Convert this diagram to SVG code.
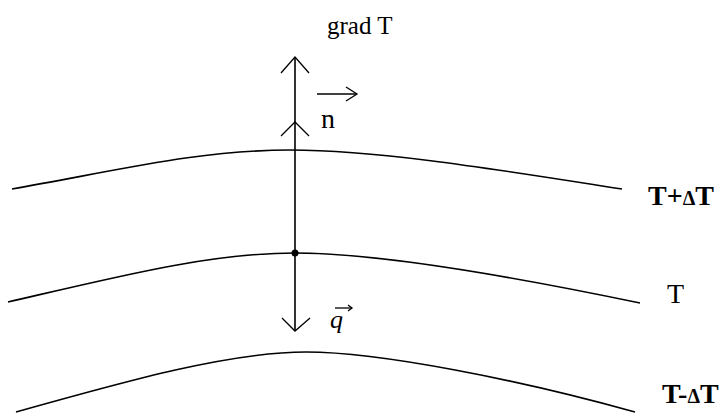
<svg xmlns="http://www.w3.org/2000/svg" width="727" height="414" viewBox="0 0 727 414">
<style>
.c{fill:none;stroke:#000;stroke-width:1.6}
.a{fill:none;stroke:#000;stroke-width:1.3}
.t{font-family:"Liberation Serif",serif;fill:#000}
</style>
<rect width="727" height="414" fill="#fff"/>
<g id="isotherm-top">
<path class="c" d="M12,189 C120,170 200,150 290,150 C380,150 500,170 622,189"/>
<text class="t" x="648" y="205" font-size="28" font-weight="bold">T+<tspan font-size="20">Δ</tspan>T</text>
</g>
<g id="isotherm-mid">
<path class="c" d="M8,302 C120,276 210,253 295,253 C380,253 520,278 640,303"/>
<text class="t" x="667" y="303" font-size="28">T</text>
</g>
<g id="isotherm-bottom">
<path class="c" d="M16,412 C130,380 230,352 306,352 C380,352 520,380 635,412"/>
<text class="t" x="662" y="403" font-size="28" font-weight="bold">T-<tspan font-size="20">Δ</tspan>T</text>
</g>
<g id="connectors">
<line class="c" x1="295" y1="57" x2="295" y2="331"/>
<polyline class="a" points="281,73 295,57 309,73"/>
<polyline class="a" points="281,136 295,122 309,136"/>
<polyline class="a" points="282,318 295,331 310,318"/>
<circle cx="295" cy="253" r="3.5" fill="#000"/>
</g>
<g id="label-grad">
<text class="t" x="327" y="34" font-size="25">grad T</text>
</g>
<g id="label-n">
<line class="a" x1="317" y1="94" x2="357" y2="94"/>
<polyline class="a" points="346,87 357,94 346,101"/>
<text class="t" x="321" y="128" font-size="28">n</text>
</g>
<g id="label-q">
<line class="a" x1="335" y1="308" x2="352" y2="308"/>
<polyline class="a" points="348,305 352,308 348,311"/>
<text class="t" x="330" y="328" font-size="26" font-style="italic">q</text>
</g>
</svg>
